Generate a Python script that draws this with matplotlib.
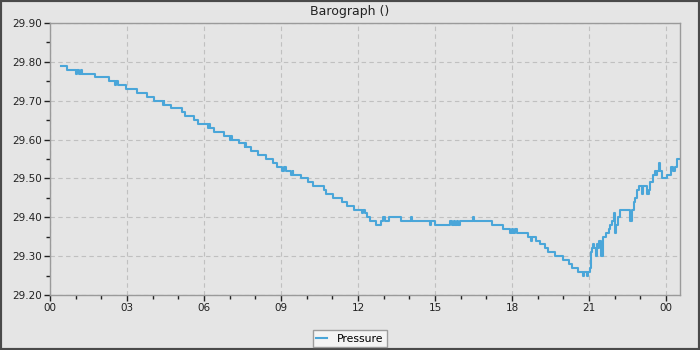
import matplotlib
matplotlib.use("Agg")
import matplotlib.pyplot as plt
from matplotlib.patches import Rectangle
from matplotlib.ticker import MultipleLocator, FixedLocator, FixedFormatter

title = "Barograph ()"
series_name = "Pressure"

hours = [0.43, 0.65, 1.00, 1.04, 1.14, 1.20, 1.26, 1.75, 2.30, 2.55, 2.58, 2.66, 2.96,
         3.40, 3.79, 4.05, 4.40, 4.44, 4.46, 4.70, 5.16, 5.26, 5.61, 5.77, 6.15, 6.20,
         6.25, 6.40, 6.79, 7.00, 7.04, 7.10, 7.36, 7.58, 7.61, 7.64, 7.82, 8.09, 8.40,
         8.69, 8.86, 9.05, 9.10, 9.19, 9.38, 9.45, 9.48, 9.77, 10.04, 10.23, 10.67,
         10.75, 11.04, 11.36, 11.58, 11.84, 12.15, 12.20, 12.27, 12.36, 12.47, 12.70,
         12.88, 12.96, 13.05, 13.22, 13.68, 14.08, 14.12, 14.80, 14.86, 14.98, 15.60,
         15.65, 15.72, 15.78, 15.85, 15.90, 15.98, 16.47, 16.50, 17.21, 17.63, 17.92,
         17.98, 18.05, 18.10, 18.18, 18.60, 18.75, 18.79, 18.93, 19.09, 19.28, 19.39,
         19.67, 20.00, 20.23, 20.32, 20.56, 20.75, 20.80, 20.90, 20.94, 21.04, 21.06,
         21.08, 21.10, 21.15, 21.20, 21.27, 21.30, 21.35, 21.40, 21.45, 21.48, 21.53,
         21.56, 21.65, 21.78, 21.83, 21.88, 21.95, 22.00, 22.05, 22.12, 22.21, 22.60,
         22.66, 22.74, 22.79, 22.86, 22.95, 23.05, 23.10, 23.25, 23.32, 23.38, 23.48,
         23.55, 23.60, 23.66, 23.72, 23.76, 23.83, 24.03, 24.18, 24.25, 24.35, 24.42,
         24.50]
pressure = [29.79, 29.78, 29.77, 29.78, 29.77, 29.78, 29.77, 29.76, 29.75, 29.74, 29.75,
            29.74, 29.73, 29.72, 29.71, 29.70, 29.69, 29.70, 29.69, 29.68, 29.67, 29.66,
            29.65, 29.64, 29.63, 29.64, 29.63, 29.62, 29.61, 29.60, 29.61, 29.60, 29.59,
            29.58, 29.59, 29.58, 29.57, 29.56, 29.55, 29.54, 29.53, 29.52, 29.53, 29.52,
            29.51, 29.52, 29.51, 29.50, 29.49, 29.48, 29.47, 29.46, 29.45, 29.44, 29.43,
            29.42, 29.41, 29.42, 29.41, 29.40, 29.39, 29.38, 29.39, 29.40, 29.39, 29.40,
            29.39, 29.40, 29.39, 29.38, 29.39, 29.38, 29.39, 29.38, 29.39, 29.38, 29.39,
            29.38, 29.39, 29.40, 29.39, 29.38, 29.37, 29.36, 29.37, 29.36, 29.37, 29.36,
            29.35, 29.34, 29.35, 29.34, 29.33, 29.32, 29.31, 29.30, 29.29, 29.28, 29.27,
            29.26, 29.25, 29.26, 29.25, 29.26, 29.27, 29.29, 29.31, 29.32, 29.33, 29.32,
            29.30, 29.33, 29.32, 29.34, 29.33, 29.30, 29.33, 29.35, 29.36, 29.37, 29.38,
            29.39, 29.41, 29.36, 29.38, 29.40, 29.42, 29.39, 29.42, 29.44, 29.45, 29.47,
            29.48, 29.46, 29.48, 29.46, 29.47, 29.49, 29.51, 29.52, 29.51, 29.52, 29.54,
            29.52, 29.50, 29.51, 29.53, 29.52, 29.53, 29.55, 29.55]

x_tick_pos = [0, 3, 6, 9, 12, 15, 18, 21, 24]
x_tick_labels = ["00", "03", "06", "09", "12", "15", "18", "21", "00"]
y_tick_pos = [29.20, 29.30, 29.40, 29.50, 29.60, 29.70, 29.80, 29.90]

bg = "#e5e5e5"
line_color = "#4aa6d9"

fig = plt.figure(figsize=(7, 3.5), dpi=100, facecolor=bg)
ax = fig.add_axes([50/700, 1 - 295/350, 630/700, 272/350])
ax.set_facecolor(bg)

ax.plot(hours, pressure, drawstyle="steps-post", color=line_color, lw=1.5,
        label=series_name)

ax.set_xlim(0, 24.54)
ax.set_ylim(29.20, 29.90)

ax.xaxis.set_major_locator(FixedLocator(x_tick_pos))
ax.xaxis.set_major_formatter(FixedFormatter(x_tick_labels))
ax.xaxis.set_minor_locator(MultipleLocator(1))
ax.yaxis.set_major_locator(FixedLocator(y_tick_pos))
ax.yaxis.set_major_formatter(matplotlib.ticker.FormatStrFormatter("%.2f"))
ax.yaxis.set_minor_locator(MultipleLocator(0.05))

ax.tick_params(which="major", direction="out", length=4, width=1, color="#222222",
               labelsize=7.5, labelcolor="#222222", pad=2)
ax.tick_params(which="minor", direction="out", length=3, width=1, color="#222222")

for s in ax.spines.values():
    s.set_color("#9a9a9a")
    s.set_linewidth(1)

ax.grid(True, which="major", linestyle=(0, (4, 3)), color="#c0c0c0", linewidth=0.8)
ax.set_axisbelow(True)

fig.text(0.5, 1 - 11/350, title, ha="center", va="center", fontsize=9, color="#222222")

leg = fig.legend(loc="center", bbox_to_anchor=(0.5, 1 - 338.5/350), fontsize=7.8,
                 frameon=True, fancybox=False, handlelength=1.0, handletextpad=0.9,
                 borderpad=0.3, borderaxespad=0)
leg.get_frame().set_facecolor("#f8f8f8")
leg.get_frame().set_edgecolor("#8a8a8a")
leg.get_frame().set_linewidth(1)

fig.patches.append(Rectangle((0, 0), 1, 1, transform=fig.transFigure, fill=False,
                             edgecolor="#4a4a4a", linewidth=3))

fig.savefig("out.png", dpi=100, facecolor=bg)
